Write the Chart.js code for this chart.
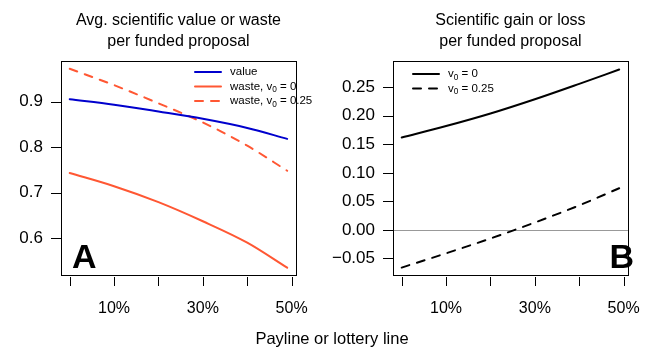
<!DOCTYPE html>
<html>
<head>
<meta charset="utf-8">
<script src="https://cdn.jsdelivr.net/npm/chart.js@4.4.0/dist/chart.umd.min.js"></script>
<style>
    body { margin: 0; background: #fff; }
    .wrap { position: relative; width: 664px; height: 358px; font-family: "Liberation Sans", Arial, sans-serif; }
    canvas { position: absolute; top: 0; }
    #chartA { left: 0; }
    #chartB { left: 332px; }
    .xlabel { position: absolute; left: 0; top: 328px; width: 664px; text-align: center; font-size: 16.5px; line-height: 20px; color: #000; }
</style>
</head>
<body>
<div class="wrap">
    <canvas id="chartA" width="332" height="358"></canvas>
    <canvas id="chartB" width="332" height="358"></canvas>
    <div class="xlabel">Payline or lottery line</div>
</div>
<script>
//Payline / lottery line (fraction of proposals funded)
const payline = [0, 0.1, 0.2, 0.3, 0.4, 0.49];

//Panel A: avg. value or waste per funded proposal
const avgValue = [0.905, 0.893, 0.878, 0.862, 0.842, 0.818];
const wasteV0 = [0.743, 0.714, 0.679, 0.637, 0.590, 0.535];
const wasteV025 = [0.972, 0.936, 0.896, 0.854, 0.803, 0.748];

//Panel B: gain or loss per funded proposal
const gainV0 = [0.162, 0.182, 0.204, 0.229, 0.256, 0.281];
const gainV025 = [-0.066, -0.041, -0.015, 0.013, 0.043, 0.073];

//Tick positions and labels
const xTicks = [0, 0.1, 0.2, 0.3, 0.4, 0.5];
const xTickLabels = ['', '10%', '', '30%', '', '50%'];
const yTicksA = [0.6, 0.7, 0.8, 0.9];
const yTickLabelsA = ['0.6', '0.7', '0.8', '0.9'];
const yTicksB = [-0.05, 0, 0.05, 0.1, 0.15, 0.2, 0.25];
const yTickLabelsB = ['\u22120.05', '0.00', '0.05', '0.10', '0.15', '0.20', '0.25'];

const FONT = '"Liberation Sans", Arial, sans-serif';
const BLUE = '#0000cd';
const RED = '#ff5733';

function points(ys) {
    return payline.map((x, i) => ({x: x, y: ys[i]}));
}

function series(label, ys, color, dashed) {
    return {
        label: label,
        data: points(ys),
        borderColor: color,
        borderWidth: 2,
        borderDash: dashed ? [8, 8] : [],
        borderCapStyle: 'round',
        pointRadius: 0,
        cubicInterpolationMode: 'monotone',
        fill: false
    };
}

//Draws text like "waste, v_0 = 0" with a subscript after "_"
function drawRich(ctx, text, x, y, size) {
    const parts = text.split('_');
    parts.forEach((part, i) => {
        let normal = part;
        if (i > 0) {
            ctx.font = (size * 0.72) + 'px ' + FONT;
            ctx.fillText(part[0], x, y + size * 0.3);
            x += ctx.measureText(part[0]).width;
            normal = part.slice(1);
        }
        ctx.font = size + 'px ' + FONT;
        ctx.fillText(normal, x, y);
        x += ctx.measureText(normal).width;
    });
}

//Box, tick marks, titles, panel letter, legend and zero line
const panelPlugin = {
    id: 'panel',
    beforeDatasetsDraw(chart, args, opts) {
        if (!opts.zeroLine) return;
        const ctx = chart.ctx, a = chart.chartArea;
        const y = Math.round(chart.scales.y.getPixelForValue(0)) + 0.5;
        ctx.save();
        ctx.strokeStyle = '#999';
        ctx.lineWidth = 1;
        ctx.beginPath();
        ctx.moveTo(a.left, y);
        ctx.lineTo(a.right, y);
        ctx.stroke();
        ctx.restore();
    },
    afterDraw(chart, args, opts) {
        const ctx = chart.ctx, a = chart.chartArea;
        ctx.save();
        ctx.strokeStyle = '#000';
        ctx.lineWidth = 1;
        ctx.strokeRect(Math.round(a.left) + 0.5, Math.round(a.top) + 0.5,
            Math.round(a.right - a.left), Math.round(a.bottom - a.top));

        //tick marks
        ctx.beginPath();
        chart.scales.x.ticks.forEach(t => {
            const x = Math.round(chart.scales.x.getPixelForValue(t.value)) + 0.5;
            ctx.moveTo(x, a.bottom + 2);
            ctx.lineTo(x, a.bottom + 11);
        });
        chart.scales.y.ticks.forEach(t => {
            const y = Math.round(chart.scales.y.getPixelForValue(t.value)) + 0.5;
            ctx.moveTo(a.left - 10, y);
            ctx.lineTo(a.left, y);
        });
        ctx.stroke();

        //title
        ctx.fillStyle = '#000';
        ctx.textAlign = 'center';
        ctx.textBaseline = 'middle';
        ctx.font = '16px ' + FONT;
        const cx = (a.left + a.right) / 2;
        opts.title.forEach((line, i) => ctx.fillText(line, cx, 21 + i * 21));

        //panel letter
        ctx.font = 'bold 34px ' + FONT;
        ctx.textBaseline = 'alphabetic';
        ctx.textAlign = opts.letterAlign;
        ctx.fillText(opts.letter, opts.letterX, 268);

        //legend
        ctx.textAlign = 'left';
        ctx.textBaseline = 'middle';
        chart.data.datasets.forEach((ds, i) => {
            const y = opts.legendY + i * opts.legendStep;
            ctx.strokeStyle = ds.borderColor;
            ctx.lineWidth = 2;
            ctx.lineCap = 'round';
            ctx.setLineDash(ds.borderDash);
            ctx.beginPath();
            ctx.moveTo(opts.legendX, y);
            ctx.lineTo(opts.legendX + 26, y);
            ctx.stroke();
            ctx.setLineDash([]);
            drawRich(ctx, ds.label, opts.legendX + 35, y, 11.5);
        });
        ctx.restore();
    }
};

function makeOptions(yMin, yMax, yTicks, yLabels, panel) {
    return {
        responsive: false,
        animation: false,
        devicePixelRatio: 1,
        layout: {padding: {left: 0, right: 20, top: 61, bottom: 0}},
        plugins: {legend: {display: false}, tooltip: {enabled: false}, panel: panel},
        scales: {
            x: {
                type: 'linear',
                min: -0.0196,
                max: 0.5096,
                afterBuildTicks: s => { s.ticks = xTicks.map(v => ({value: v})); },
                afterFit: s => { s.height = 83; },
                grid: {display: false, drawTicks: false},
                border: {display: false},
                ticks: {callback: (v, i) => xTickLabels[i], font: {size: 16, family: FONT}, color: '#000',
                    padding: 24, maxRotation: 0, autoSkip: false}
            },
            y: {
                min: yMin,
                max: yMax,
                afterBuildTicks: s => { s.ticks = yTicks.map(v => ({value: v})); },
                afterFit: s => { s.width = 61; },
                grid: {display: false, drawTicks: false},
                border: {display: false},
                ticks: {callback: (v, i) => yLabels[i], font: {size: 17, family: FONT}, color: '#000',
                    padding: 18, autoSkip: false}
            }
        }
    };
}

new Chart(document.getElementById('chartA'), {
    type: 'line',
    data: {
        datasets: [
            series('value', avgValue, BLUE, false),
            series('waste, v_0 = 0', wasteV0, RED, false),
            series('waste, v_0 = 0.25', wasteV025, RED, true)
        ]
    },
    options: makeOptions(0.519, 0.989, yTicksA, yTickLabelsA, {
        title: ['Avg. scientific value or waste', 'per funded proposal'],
        letter: 'A', letterAlign: 'left', letterX: 72,
        legendX: 195, legendY: 72, legendStep: 14.5, zeroLine: false
    }),
    plugins: [panelPlugin]
});

new Chart(document.getElementById('chartB'), {
    type: 'line',
    data: {
        datasets: [
            series('v_0 = 0', gainV0, '#000', false),
            series('v_0 = 0.25', gainV025, '#000', true)
        ]
    },
    options: makeOptions(-0.079, 0.296, yTicksB, yTickLabelsB, {
        title: ['Scientific gain or loss', 'per funded proposal'],
        letter: 'B', letterAlign: 'right', letterX: 302,
        legendX: 81, legendY: 74, legendStep: 14.5, zeroLine: true
    }),
    plugins: [panelPlugin]
});
</script>
</body>
</html>
